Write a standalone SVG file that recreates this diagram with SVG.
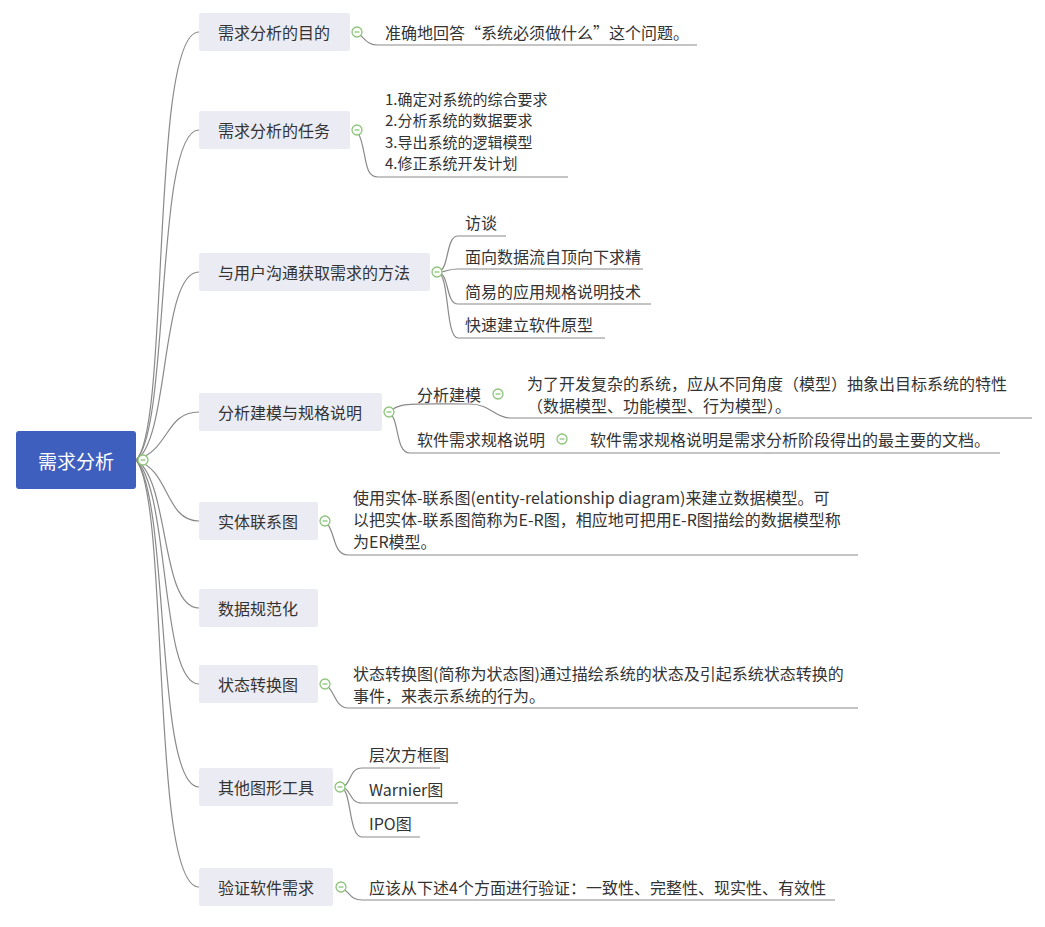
<svg xmlns="http://www.w3.org/2000/svg" width="1045" height="927" viewBox="0 0 1045 927">
<style>
text{font-family:"Noto Sans CJK SC","Noto Sans",sans-serif;font-size:16px;fill:#333;dominant-baseline:central}
.s{font-size:15px}
.b{fill:#ebecf3}
.c{fill:none;stroke:#8a8a8a;stroke-width:1.2}
.t{fill:#fff;stroke:#8cc57a;stroke-width:1.3}
.m{stroke:#8cc57a;stroke-width:1.3}
</style>
<defs><g id="tog"><circle class="t" r="5"/><line class="m" x1="-2.5" x2="2.5"/></g></defs>
<rect width="1045" height="927" fill="#fff"/>
<g id="connectors">
<path class="c" d="M136 460 C170 430 150 32 199 32"/>
<path class="c" d="M136 460 C170 430 155 130 199 130"/>
<path class="c" d="M136 460 C170 440 160 272 199 272"/>
<path class="c" d="M136 460 C170 450 165 412 199 412"/>
<path class="c" d="M136 460 C170 470 165 521 199 521"/>
<path class="c" d="M136 460 C170 480 160 608 199 608"/>
<path class="c" d="M136 460 C170 490 160 684 199 684"/>
<path class="c" d="M136 460 C170 500 155 787 199 787"/>
<path class="c" d="M136 460 C170 500 150 887 199 887"/>
<path class="c" d="M357 32 C366 40 368 45 378 45 H697"/>
<path class="c" d="M357 130 C368 150 362 177 378 177 H568"/>
<path class="c" d="M437 272 C450 272 445 236 458 236 H506"/>
<path class="c" d="M437 272 C450 272 445 269 458 269 H643"/>
<path class="c" d="M437 272 C450 272 445 304 458 304 H651"/>
<path class="c" d="M437 272 C450 272 445 338 458 338 H605"/>
<path class="c" d="M389 412 C400 402 410 404 470 404 C490 404 495 418 510 418 H1032"/>
<path class="c" d="M389 412 C400 420 395 453 410 453 H1000"/>
<path class="c" d="M325 521 C336 530 332 555 348 555 H858"/>
<path class="c" d="M325 684 C335 690 335 708 348 708 H858"/>
<path class="c" d="M340 787 C352 787 348 768 362 768 H440"/>
<path class="c" d="M340 787 C352 787 348 803 362 803 H458"/>
<path class="c" d="M340 787 C352 787 348 837 362 837 H420"/>
<path class="c" d="M341 887 C350 892 350 900 362 900 H835"/>
</g>
<g id="root"><rect x="16" y="431" width="120" height="58" rx="3" fill="#3f5fbf"/><text x="76" y="460" text-anchor="middle" style="fill:#fff;font-size:19px">需求分析</text><use href="#tog" x="143" y="460"/></g>
<g id="n1"><rect class="b" x="199" y="13" width="151" height="38" rx="2"/><text x="274" y="32" text-anchor="middle">需求分析的目的</text><use href="#tog" x="357" y="32"/><text x="385" y="32">准确地回答“系统必须做什么”这个问题。</text></g>
<g id="n2"><rect class="b" x="199" y="111" width="151" height="38" rx="2"/><text x="274" y="130" text-anchor="middle">需求分析的任务</text><use href="#tog" x="357" y="130"/>
<text class="s" x="385" y="98">1.确定对系统的综合要求</text><text class="s" x="385" y="119">2.分析系统的数据要求</text><text class="s" x="385" y="141">3.导出系统的逻辑模型</text><text class="s" x="385" y="162">4.修正系统开发计划</text></g>
<g id="n3"><rect class="b" x="199" y="253" width="231" height="38" rx="2"/><text x="314" y="272" text-anchor="middle">与用户沟通获取需求的方法</text><use href="#tog" x="437" y="272"/>
<text x="465" y="222">访谈</text><text x="465" y="256">面向数据流自顶向下求精</text><text x="465" y="291">简易的应用规格说明技术</text><text x="465" y="324">快速建立软件原型</text></g>
<g id="n4"><rect class="b" x="199" y="393" width="183" height="38" rx="2"/><text x="290" y="412" text-anchor="middle">分析建模与规格说明</text><use href="#tog" x="389" y="412"/>
<text x="417" y="394">分析建模</text><use href="#tog" x="498" y="394"/><text x="527" y="383">为了开发复杂的系统，应从不同角度（模型）抽象出目标系统的特性</text><text x="527" y="405">（数据模型、功能模型、行为模型）。</text>
<text x="417" y="439">软件需求规格说明</text><use href="#tog" x="562" y="439"/><text x="590" y="439">软件需求规格说明是需求分析阶段得出的最主要的文档。</text></g>
<g id="n5"><rect class="b" x="199" y="502" width="119" height="38" rx="2"/><text x="258" y="521" text-anchor="middle">实体联系图</text><use href="#tog" x="325" y="521"/>
<text x="353" y="497">使用实体-联系图(entity-relationship diagram)来建立数据模型。可</text><text x="353" y="519">以把实体-联系图简称为E-R图，相应地可把用E-R图描绘的数据模型称</text><text x="353" y="541">为ER模型。</text></g>
<g id="n6"><rect class="b" x="199" y="589" width="119" height="38" rx="2"/><text x="258" y="608" text-anchor="middle">数据规范化</text></g>
<g id="n7"><rect class="b" x="199" y="665" width="119" height="38" rx="2"/><text x="258" y="684" text-anchor="middle">状态转换图</text><use href="#tog" x="325" y="684"/>
<text x="353" y="673">状态转换图(简称为状态图)通过描绘系统的状态及引起系统状态转换的</text><text x="353" y="695">事件，来表示系统的行为。</text></g>
<g id="n8"><rect class="b" x="199" y="768" width="134" height="38" rx="2"/><text x="266" y="787" text-anchor="middle">其他图形工具</text><use href="#tog" x="340" y="787"/>
<text x="369" y="754">层次方框图</text><text x="369" y="789">Warnier图</text><text x="369" y="823">IPO图</text></g>
<g id="n9"><rect class="b" x="199" y="868" width="134" height="38" rx="2"/><text x="266" y="887" text-anchor="middle">验证软件需求</text><use href="#tog" x="341" y="887"/>
<text x="369" y="887">应该从下述4个方面进行验证：一致性、完整性、现实性、有效性</text></g>
</svg>
